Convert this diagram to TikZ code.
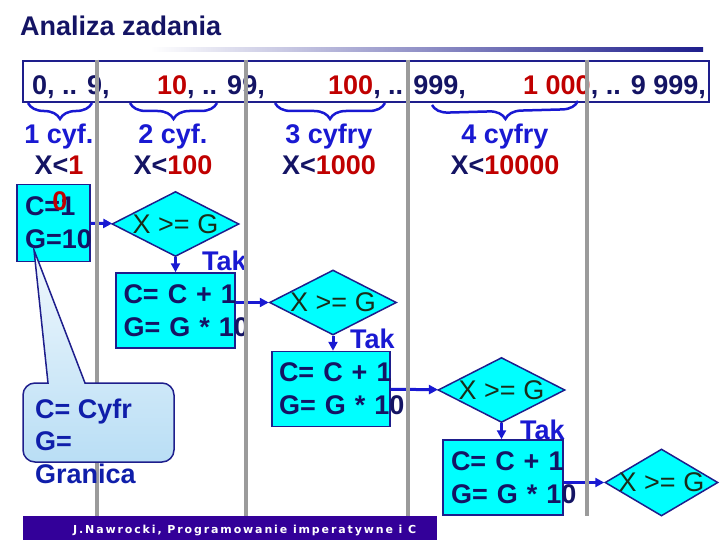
\documentclass[tikz,border=0pt]{standalone}
\usepackage{fontspec}
\setmainfont{Liberation Sans}
\newfontfamily\footfont[LetterSpace=17]{DejaVu Sans}
\usetikzlibrary{shapes.geometric,arrows.meta,decorations.pathreplacing,positioning}
\definecolor{navy}{RGB}{20,20,100}
\definecolor{ink}{RGB}{25,25,210}
\definecolor{numred}{RGB}{192,0,0}
\definecolor{frame}{RGB}{30,30,140}
\definecolor{boxfill}{RGB}{0,255,255}
\definecolor{rulegrey}{RGB}{155,155,155}
\definecolor{barfill}{RGB}{51,0,153}
\definecolor{testink}{RGB}{25,45,25}
\definecolor{notetext}{RGB}{15,30,170}
\definecolor{notetop}{RGB}{240,248,253}
\definecolor{notebot}{RGB}{185,222,245}

\begin{document}
\begin{tikzpicture}[x=1pt, y=-1pt, >={Triangle[length=9pt,width=9pt]},
  big/.style={font=\fontsize{27}{33}\selectfont\bfseries, inner sep=0pt},
  numtext/.style={big, text=navy, anchor=base west},
  digits/.style={big, font=\fontsize{27}{31}\selectfont\bfseries, text=ink,
                 align=center, anchor=base},
  stepbox/.style={big, draw=frame, line width=1.5pt, fill=boxfill,
                  minimum width=119pt, minimum height=75pt, text width=104pt,
                  inner xsep=7pt, align=left, text=navy},
  testbox/.style={diamond, draw=frame, line width=1.5pt, fill=boxfill, aspect=2,
               inner sep=0pt, minimum width=127pt, minimum height=65pt},
  cond/.style={font=\fontsize{27}{33}\selectfont, text=testink, inner sep=0pt},
  flow/.style={->, draw=ink, line width=3pt},
  tak/.style={big, text=ink, anchor=base west},
  brace/.style={decorate, decoration={brace, mirror, amplitude=16pt},
                draw=ink, line width=2.5pt}]
  \useasboundingbox (0,0) rectangle (720,540);

  % title
  \node[big, text=navy, anchor=base west] (title) at (20,36) {Analiza zadania};
  \shade[left color=white, right color=frame] (150,48) rectangle (703,52);

  % number ranges
  \draw[frame, line width=1.5pt] (23,61) rectangle (709,102);
  \node[numtext] (r1) at (32,95) {0, .. 9,};
  \node[numtext] (r2) at (157,95) {\textcolor{numred}{10}, .. 99,};
  \node[numtext] (r3) at (328,95) {\textcolor{numred}{100}, .. 999,};
  \node[numtext] (r4) at (523,95) {\textcolor{numred}{1 000}, .. 9 999,};
  \draw[brace] (28,103) -- (92,103);
  \draw[brace] (130,103) -- (217,103);
  \draw[brace] (275,103) -- (385,103);
  \draw[brace] (432,105) -- (578,101);
  \node[digits] (d1) at (59,175) {1 cyf.\\\textcolor{navy}{X<}\textcolor{numred}{1}};
  \node[digits] (d2) at (173,175) {2 cyf.\\\textcolor{navy}{X<}\textcolor{numred}{100}};
  \node[digits] (d3) at (329,175) {3 cyfry\\\textcolor{navy}{X<}\textcolor{numred}{1000}};
  \node[digits] (d4) at (505,175) {4 cyfry\\\textcolor{navy}{X<}\textcolor{numred}{10000}};

  % loop unrolled
  \node[stepbox, minimum width=73pt, minimum height=77pt, text width=57pt,
        inner xsep=8pt] (init) at (53.5,223) {C=1\\G=10};
  \node[big, text=numred] (zero) at (60,201) {0};
  \node[testbox, label={[cond]center:X >= G}] (test1) at (175.5,224) {};
  \node[stepbox] (step1) at (175.5,310.5) {\mbox{C= C + 1}\\\mbox{G= G * 10}};
  \node[testbox, label={[cond]center:X >= G}] (test2) at (333,302.5) {};
  \node[stepbox, minimum width=118pt] (step2) at (331,389) {\mbox{C= C + 1}\\\mbox{G= G * 10}};
  \node[testbox, label={[cond]center:X >= G}] (test3) at (501.5,390) {};
  \node[stepbox, minimum width=120pt] (step3) at (503,477.5) {\mbox{C= C + 1}\\\mbox{G= G * 10}};
  \node[testbox, minimum width=113pt, minimum height=67pt,
        label={[cond]center:X >= G}] (test4) at (661.5,482.5) {};
  \node[tak] (tak1) at (202,270) {Tak};
  \node[tak] (tak2) at (350,348) {Tak};
  \node[tak] (tak3) at (520,439) {Tak};

  \draw[flow] (init) -- (test1);
  \draw[flow] (test1) -- (step1);
  \draw[flow] (step1.east |- test2.west) -- (test2.west);
  \draw[flow] (test2.south) -- (test2.south |- step2.north);
  \draw[flow] (step2) -- (test3);
  \draw[flow] (test3.south) -- (test3.south |- step3.north);
  \draw[flow] (step3.east |- test4.west) -- (test4.west);

  % column rules
  \foreach \x in {97,246,408,587}
    \draw[rulegrey, line width=3.5pt] (\x,60) -- (\x,516);

  % callout
  \coordinate (tip) at (34,250);
  \path[draw=frame, line width=1.5pt, top color=notetop, bottom color=notebot]
    (48,383) -- (tip) -- (85,383) -- (162,383)
    arc[start angle=-90, end angle=0, radius=12] -- (174,450)
    arc[start angle=0, end angle=90, radius=12] -- (35,462)
    arc[start angle=90, end angle=180, radius=12] -- (23,395)
    arc[start angle=180, end angle=270, radius=12] -- cycle;
  \node[big, font=\fontsize{27}{32.5}\selectfont\bfseries, text=notetext,
        align=left, anchor=base west] (note) at (35,483) {C= Cyfr\\G=\\Granica};

  % footer
  \fill[barfill] (23,516) rectangle (437,540);
  \node[anchor=base west, inner sep=0pt, text=white,
        font=\footfont\bfseries\fontsize{11}{13}\selectfont] (foot) at (73,533)
    {J.Nawrocki, Programowanie imperatywne i C};
\end{tikzpicture}
\end{document}
